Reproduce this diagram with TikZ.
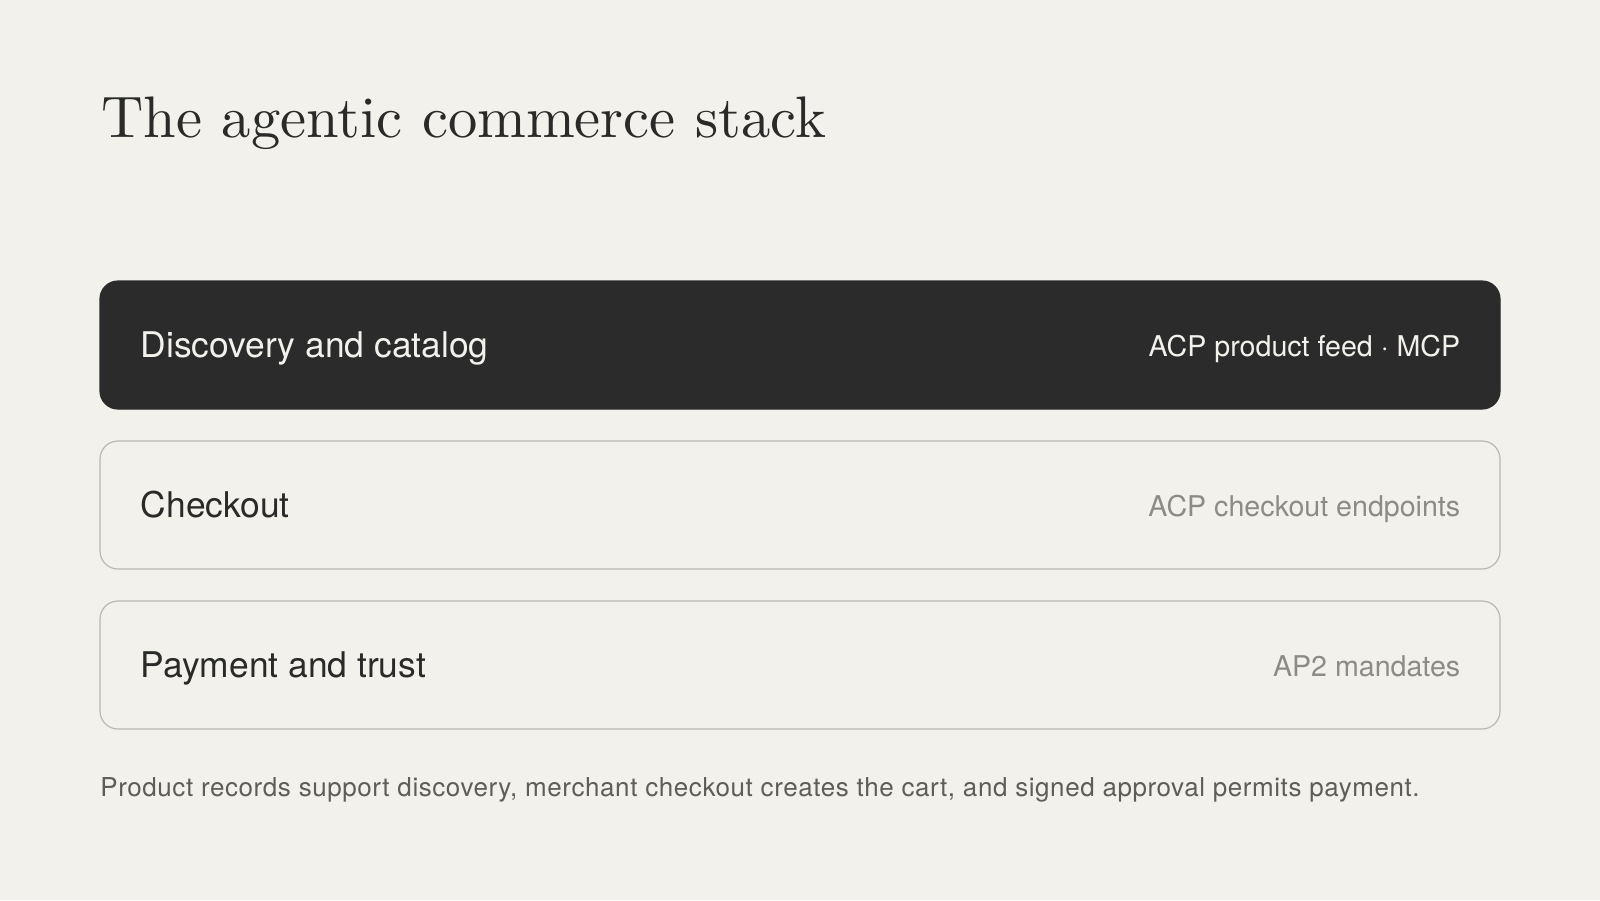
\documentclass[tikz,border=0pt]{standalone}
\usepackage{fontspec}
\usepackage{xcolor}
\usepackage{tikz}
\usetikzlibrary{positioning}
\newfontfamily\labelfont{TeX Gyre Heros}
\newfontfamily\notefont{TeX Gyre Heros}[LetterSpace=2.2]
\newfontfamily\titlefont{lmroman10-regular.otf}
\definecolor{paper}{HTML}{F2F1EC}
\definecolor{ink}{HTML}{2A2A28}
\definecolor{slab}{HTML}{2B2B2B}
\definecolor{rim}{HTML}{BAB8B2}
\definecolor{muted}{HTML}{8C8B86}
\definecolor{note}{HTML}{5E5D58}
\begin{document}
\begin{tikzpicture}[x=0.5pt,y=-0.5pt,
layer/.style={draw=rim,line width=0.6pt,rounded corners=9pt,minimum width=700pt,minimum height=64pt,inner sep=0pt},
darklayer/.style={layer,draw=slab,fill=slab},
layertitle/.style={anchor=base west,font=\labelfont\fontsize{17.7}{21}\selectfont,text=ink,inner sep=0pt},
layerspec/.style={anchor=base east,font=\labelfont\fontsize{14.3}{17}\selectfont,text=muted,inner sep=0pt}]
\fill[paper] (0,0) rectangle (1600,900);
\useasboundingbox (0,0) rectangle (1600,900);
\node[anchor=base west,inner sep=0pt,text=ink,font=\titlefont\fontsize{29.3}{35}\selectfont] (title) at (101,137) {The agentic commerce stack};
% the three layers
\node[darklayer] (disc) at (800,345) {};
\node[layer] (chk) at (800,505) {};
\node[layer] (pay) at (800,665) {};
\node[layertitle,text=paper] (disc-n) at ([xshift=20.5pt,yshift=-6pt]disc.west) {Discovery and catalog};
\node[layerspec,text=paper] (disc-s) at ([xshift=-20pt,yshift=-5.5pt]disc.east) {ACP product feed · MCP};
\node[layertitle] (chk-n) at ([xshift=20.5pt,yshift=-6pt]chk.west) {Checkout};
\node[layerspec] (chk-s) at ([xshift=-20pt,yshift=-5.5pt]chk.east) {ACP checkout endpoints};
\node[layertitle] (pay-n) at ([xshift=20.5pt,yshift=-6pt]pay.west) {Payment and trust};
\node[layerspec] (pay-s) at ([xshift=-20pt,yshift=-5.5pt]pay.east) {AP2 mandates};
\node[anchor=base west,inner sep=0pt,text=note,font=\notefont\fontsize{13}{15}\selectfont] (foot) at (100,796) {Product records support discovery, merchant checkout creates the cart, and signed approval permits payment.};
\end{tikzpicture}
\end{document}
